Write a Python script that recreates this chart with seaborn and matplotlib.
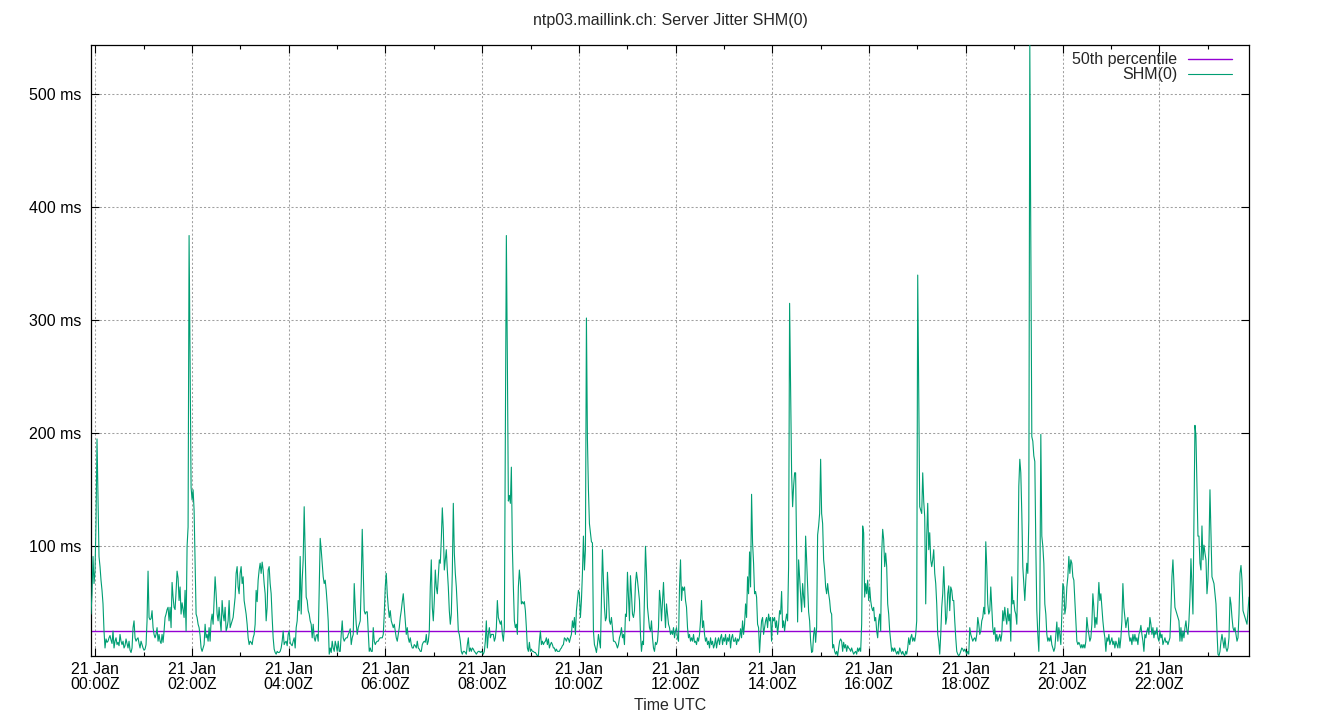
import numpy as np
import pandas as pd
import matplotlib
matplotlib.use("Agg")
import matplotlib.pyplot as plt
import matplotlib.dates as mdates
import matplotlib.ticker as mticker
import seaborn as sns

# ---------------- data ----------------
title_text = "ntp03.maillink.ch: Server Jitter SHM(0)"
series_label = "SHM(0)"
pct_label = "50th percentile"
x_label = "Time UTC"
t_start = "2024-01-20 23:54:40"
t_end = "2024-01-21 23:51:20"
p50_ms = 25.3

seg01 = [40, 58, 91, 67, 78, 120, 195, 141, 91, 82,
         70, 61, 49, 25, 10, 18, 15, 16, 19, 21,
         17, 14, 25, 10, 16, 19, 13, 15, 12, 22,
         16, 13, 16, 10, 12, 18, 14, 10, 16, 8,
         6, 10, 28, 34, 19, 16, 18, 19, 14, 10,
         16, 13, 10, 8, 9, 13, 34, 78, 37, 35,
         36, 43, 28, 22, 19, 22, 28, 16, 22, 16,
         14, 22, 15, 25, 37, 40, 44, 46, 34, 46,
         28, 68, 55, 46, 44, 60, 78, 72, 52, 64,
         40, 50, 44, 37, 61, 25, 100, 117, 375, 265,
         152, 141, 150, 132, 85, 40, 37]
seg02 = [31, 28, 21, 10, 7, 10, 13, 31, 19, 22,
         16, 28, 16, 34, 40, 31, 52, 73, 58, 40,
         34, 46, 34, 25, 52, 40, 34, 46, 25, 28,
         34, 52, 28, 31, 34, 37, 46, 55, 76, 82,
         64, 58, 76, 82, 67, 73, 52, 46, 40, 31,
         19, 13, 16, 15, 13, 19, 22, 31, 61, 51,
         70, 79, 85, 76, 86, 79, 67, 58, 34, 46,
         79, 82, 67, 58, 37, 19, 9, 6, 4.5, 7,
         6, 6, 7, 10, 16, 25, 13, 15, 16, 12,
         22, 25, 15, 13, 12, 16, 19, 10, 28, 34,
         52, 43, 91, 40, 70]
seg03 = [88, 135, 94, 55, 52, 43, 40, 34, 31, 19,
         31, 19, 16, 21, 22, 16, 64, 107, 97, 85,
         73, 67, 70, 61, 49, 34, 4.5, 10, 6, 16,
         10, 7, 16, 12, 7, 16, 7, 7, 22, 34,
         19, 16, 18, 19, 19, 22, 24, 27, 13, 19,
         22, 67, 46, 31, 22, 28, 31, 34, 67, 115,
         79, 43, 40, 42, 42, 25, 7, 10, 7, 7,
         28, 16, 13, 15, 16, 16, 18, 19, 19, 19,
         22, 40, 64, 76, 58, 46, 37, 43, 34, 31,
         28, 31, 25, 19, 16, 22, 28, 37, 43, 51,
         58, 46, 34, 22, 28, 19, 15, 19, 13, 10]
seg04 = [10, 13, 12, 10, 16, 10, 9, 7, 7, 13,
         15, 16, 15, 22, 13, 16, 25, 64, 88, 46,
         34, 52, 79, 64, 58, 73, 88, 85, 106, 134,
         115, 79, 88, 97, 79, 64, 43, 31, 40, 77,
         138, 94, 76, 64, 46, 25, 22, 16, 7, 4.5,
         7, 7, 6, 4.5, 13, 19, 7, 10, 7, 10,
         9, 7, 6, 4.5, 6, 7, 7, 6, 7, 6,
         4.5, 7, 16, 34, 10, 22, 28, 19, 22, 22,
         22, 16, 19, 28, 52, 37, 34, 31, 34, 22,
         16, 28, 208, 375, 265, 140, 145, 138, 170, 99,
         64, 34, 28, 31, 22, 64]
seg05 = [79, 68, 49, 51, 49, 51, 43, 28, 10, 7,
         15, 7, 9, 7, 7, 6, 6, 4.5, 3, 3,
         16, 25, 13, 16, 13, 15, 16, 19, 13, 18,
         10, 13, 15, 13, 10, 10, 7, 9, 7, 7,
         7, 9, 10, 12, 13, 19, 18, 16, 19, 18,
         15, 19, 22, 34, 28, 37, 22, 43, 52, 61,
         58, 37, 52, 76, 109, 79, 97, 302, 195, 150,
         120, 112, 104, 103, 25, 13, 10, 6, 13, 22,
         16, 10, 55, 97, 70, 46, 34, 37, 77, 58,
         34, 31, 37, 28, 16, 16, 15, 13, 10, 13,
         19, 22, 28, 19, 22, 13, 40, 38]
seg06 = [77, 55, 34, 74, 58, 40, 37, 43, 67, 77,
         70, 61, 52, 22, 7, 16, 13, 58, 100, 77,
         46, 37, 28, 25, 34, 19, 10, 7, 15, 13,
         16, 28, 61, 52, 34, 52, 68, 46, 28, 49,
         40, 31, 28, 22, 25, 22, 28, 19, 25, 28,
         19, 16, 64, 88, 52, 64, 61, 64, 52, 46,
         28, 19, 22, 16, 19, 16, 22, 15, 16, 13,
         19, 16, 22, 34, 52, 28, 34, 22, 16, 19,
         13, 16, 10, 19, 13, 16, 10, 13, 19, 10,
         16, 19, 13, 19, 22, 13, 19, 16, 22, 13,
         19, 16, 22, 10, 19, 22, 16]
seg07 = [16, 19, 13, 18, 16, 19, 27, 19, 34, 22,
         31, 49, 37, 73, 58, 95, 64, 146, 103, 85,
         58, 60, 55, 31, 28, 6, 22, 34, 37, 22,
         28, 34, 37, 28, 40, 34, 37, 16, 37, 34,
         37, 28, 34, 22, 31, 43, 40, 60, 28, 34,
         25, 34, 40, 34, 82, 315, 237, 165, 135, 153,
         165, 165, 100, 33, 88, 73, 58, 42, 67, 55,
         46, 109, 88, 64, 42, 34, 16, 6, 7, 22,
         28, 15, 28, 110, 118, 129, 177, 129, 120, 88,
         79, 64, 58, 67, 58, 52, 42, 40, 10, 13,
         7, 4.5, 7, 2.9, 10, 16, 18]
seg08 = [16, 7, 15, 10, 13, 7, 12, 10, 9, 7,
         10, 7, 4.5, 6, 7, 4.5, 10, 7, 10, 7,
         31, 118, 112, 55, 67, 58, 70, 52, 64, 52,
         46, 43, 46, 34, 37, 25, 19, 34, 40, 25,
         94, 115, 106, 82, 94, 82, 49, 40, 25, 16,
         7, 10, 7, 10, 7, 4.5, 7, 4.5, 10, 7,
         4.5, 7, 4.5, 3, 7, 4.5, 10, 19, 13, 19,
         22, 16, 19, 16, 22, 34, 340, 235, 135, 132,
         129, 165, 140, 126, 49, 109, 138, 97, 112, 88,
         82, 88, 97, 76, 67, 49, 22, 16, 4.5, 22,
         46, 58, 82, 58, 31, 37, 58]
seg09 = [65, 43, 64, 61, 52, 52, 34, 19, 7, 4.5,
         3, 4.5, 7, 10, 9, 7, 9, 7, 4.5, 7,
         4.5, 28, 22, 19, 16, 18, 19, 16, 22, 37,
         31, 22, 25, 34, 37, 46, 40, 104, 82, 49,
         40, 43, 64, 46, 28, 22, 28, 16, 22, 16,
         19, 22, 16, 22, 43, 34, 46, 37, 31, 45,
         34, 40, 16, 73, 49, 52, 43, 40, 31, 70,
         153, 177, 165, 129, 82, 67, 52, 70, 85, 76,
         123, 543.6, 370, 197, 193, 180, 175, 100, 43, 22,
         7, 46, 199, 109, 100, 85, 49, 40, 22, 16,
         19, 16, 21, 13, 10, 7, 10]
seg10 = [22, 33, 16, 28, 22, 13, 40, 67, 64, 40,
         46, 64, 73, 91, 76, 88, 85, 73, 70, 52,
         34, 16, 13, 15, 13, 10, 13, 10, 13, 10,
         16, 37, 28, 22, 16, 19, 31, 58, 46, 28,
         37, 31, 49, 68, 52, 58, 46, 34, 25, 19,
         7, 19, 16, 22, 13, 16, 19, 13, 16, 10,
         16, 13, 10, 19, 10, 19, 34, 67, 46, 37,
         28, 34, 37, 22, 16, 19, 13, 22, 16, 22,
         16, 19, 13, 22, 25, 30, 22, 16, 7, 22,
         19, 25, 28, 22, 37, 31, 22, 28, 19, 25,
         22, 28, 19, 16, 25, 19, 22]
seg11 = [13, 16, 19, 15, 16, 13, 16, 19, 43, 73,
         88, 67, 46, 43, 40, 37, 34, 16, 28, 16,
         25, 19, 28, 34, 25, 22, 34, 55, 89, 64,
         40, 120, 207, 198, 153, 109, 109, 85, 79, 118,
         88, 101, 94, 88, 58, 70, 100, 150, 112, 73,
         70, 67, 58, 49, 25, 4.5, 3, 7, 16, 22,
         16, 10, 19, 10, 7, 10, 19, 55, 49, 37,
         28, 25, 28, 22, 16, 19, 40, 76, 83, 70,
         43, 40, 37, 34, 31, 43, 55]

jitter_ms = np.array(seg01 + seg02 + seg03 + seg04 + seg05 + seg06 +
                     seg07 + seg08 + seg09 + seg10 + seg11, dtype=float)
times = pd.date_range(t_start, t_end, periods=len(jitter_ms))
df = pd.DataFrame({"time": times, "jitter": jitter_ms})

# ---------------- styling ----------------
sns.set_style("ticks")
plt.rcParams["font.family"] = ["Liberation Sans", "DejaVu Sans"]
FS = 11.5

fig = plt.figure(figsize=(13.4, 7.2), dpi=100)
W, H = 1340, 720
ax = fig.add_axes([91 / W, 1 - 656 / H, (1249 - 91) / W, (656 - 45) / H])

ax.axhline(p50_ms, color="#9400d3", lw=1.0, label=pct_label, zorder=2)
sns.lineplot(data=df, x="time", y="jitter", ax=ax, color="#009e73",
             lw=0.8, label=series_label, estimator=None, zorder=3)

ax.set_xlim(times[0], times[-1])
ax.set_ylim(jitter_ms.min(), jitter_ms.max())

ax.xaxis.set_major_locator(mdates.HourLocator(byhour=range(0, 24, 2)))
ax.xaxis.set_minor_locator(mdates.HourLocator())
ax.xaxis.set_major_formatter(mdates.DateFormatter("%d %b\n%H:%MZ"))
ax.yaxis.set_major_locator(mticker.MultipleLocator(100))
ax.yaxis.set_major_formatter(mticker.FuncFormatter(lambda v, p: f"{v:.0f} ms"))

ax.tick_params(which="both", direction="in", top=True, right=True,
               labelsize=FS, color="black", width=0.8, labelcolor="black")
ax.tick_params(which="major", length=6)
ax.tick_params(which="minor", length=3)
ax.tick_params(axis="x", which="major", pad=4)
ax.tick_params(axis="y", which="major", pad=7)

ax.grid(True, which="major", color="#a0a0a0", ls=(0, (2, 2)), lw=0.75)
for s in ax.spines.values():
    s.set_color("black")
    s.set_linewidth(0.9)

ax.set_ylabel("")
ax.set_xlabel(x_label, fontsize=FS, labelpad=5)
fig.text(0.5, 1 - 21 / H, title_text, ha="center", va="center", fontsize=FS)

leg = ax.legend(loc="upper right", frameon=False, markerfirst=False,
                handlelength=2.75, handletextpad=0.65, labelspacing=0.0,
                fontsize=FS, borderaxespad=0.4, borderpad=0.3,
                bbox_to_anchor=(1 - 6 / 1158, 1 + 4 / 611))
for col in leg._legend_handle_box.get_children():
    col.align = "right"

fig.canvas.draw()
for lbl in ax.get_xticklabels():
    lbl.set_linespacing(1.0)

fig.savefig("out.png", dpi=100)
